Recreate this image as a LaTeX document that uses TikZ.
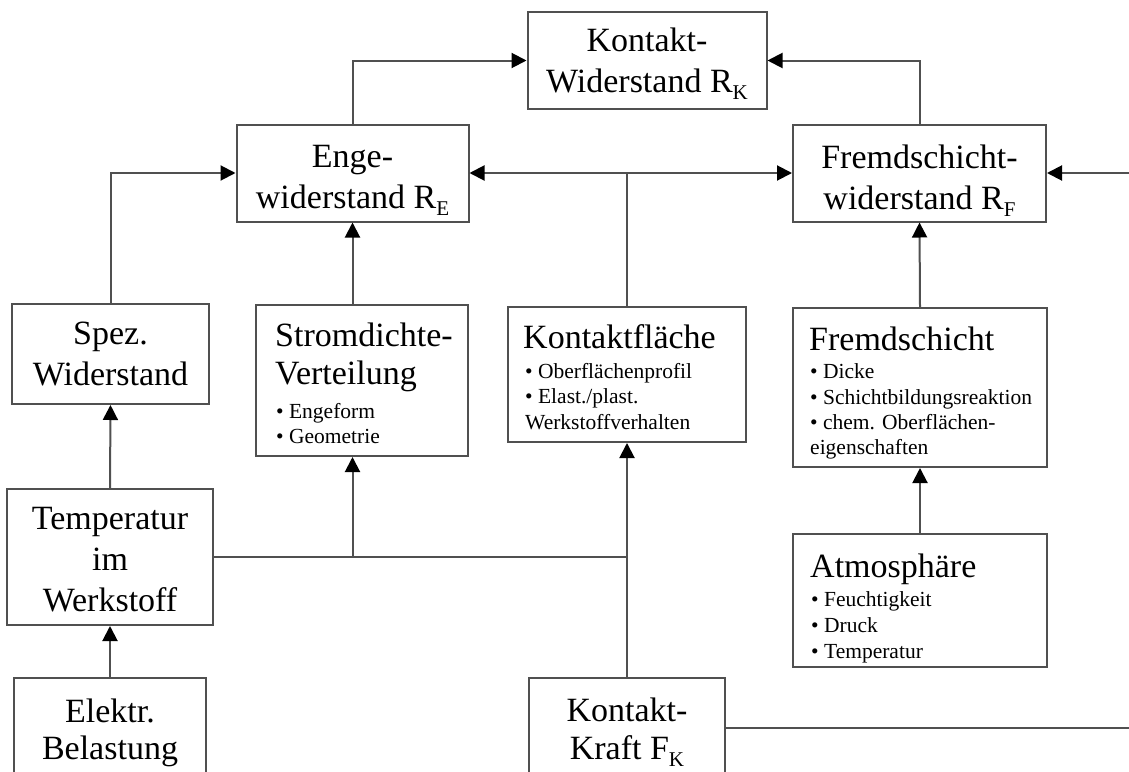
\documentclass[tikz,border=0pt]{standalone}
\usepackage{fontspec}
\setmainfont{Liberation Serif}
\usetikzlibrary{arrows.meta}
\definecolor{lc}{RGB}{80,80,80}
\newcommand{\lowidx}[1]{\raisebox{-7pt}[0pt][0pt]{\fontsize{21}{21}\selectfont #1}}
\tikzset{
  box/.style={draw=lc, line width=2pt, rectangle, inner sep=0pt, align=center,
    font=\fontsize{34}{41}\selectfont},
  lbl/.style={inner sep=0pt, align=center, font=\fontsize{34}{41}\selectfont},
  big/.style={inner sep=0pt, anchor=base west, font=\fontsize{34}{41}\selectfont},
  bigc/.style={inner sep=0pt, anchor=base, font=\fontsize{34}{41}\selectfont},
  small/.style={inner sep=0pt, anchor=base west, font=\fontsize{21.5}{25}\selectfont},
  conn/.style={draw=lc, line width=2pt},
  arr/.style={conn, -{Triangle[length=15pt,width=15pt,color=black]}}
}
\begin{document}
\begin{tikzpicture}[x=1pt,y=-1pt]
\useasboundingbox (0,0) rectangle (1129,771);
\clip (0,0) rectangle (1129,771);
% boxes
\node[box, minimum width=239pt, minimum height=97pt] (rk) at (647,60.5) {Kontakt-\\Widerstand R\lowidx{K}};
\node[box, minimum width=232pt, minimum height=97pt] (re) at (352.5,173) {};
\node[box, minimum width=253pt, minimum height=97pt] (rf) at (919.5,173) {};
\node[box, minimum width=197pt, minimum height=100pt] (spez) at (110.5,354) {Spez.\\Widerstand};
\node[box, minimum width=212pt, minimum height=151pt] (strom) at (362,380.5) {};
\node[box, minimum width=238pt, minimum height=135pt] (kfl) at (627,374.5) {};
\node[box, minimum width=254pt, minimum height=159pt] (fremd) at (920,387.5) {};
\node[box, minimum width=206pt, minimum height=136pt] (temp) at (110,557) {};
\node[box, minimum width=254pt, minimum height=133pt] (atmo) at (920,600.5) {};
\node[box, minimum width=192pt, minimum height=100pt] (el) at (110,728) {};
\node[box, minimum width=196pt, minimum height=100pt] (kk) at (627,728) {};
% centred texts
\node[lbl, yshift=-4pt] (ret) at (re) {Enge-\\widerstand R\lowidx{E}};
\node[lbl, yshift=-4pt] (rft) at (rf) {Fremdschicht-\\widerstand R\lowidx{F}};
\node[lbl, yshift=-3pt] (tempt) at (temp) {Temperatur\\im\\Werkstoff};
% left-aligned texts
\node[big] (st1) at (275,346) {Stromdichte-};
\node[big] (st2) at (275,384) {Verteilung};
\node[small] (st3) at (276,418) {• Engeform};
\node[small] (st4) at (276,443) {• Geometrie};
\node[big] (kf1) at (523,348) {Kontaktfläche};
\node[small] (kf2) at (525,378) {• Oberflächenprofil};
\node[small] (kf3) at (525,403) {• Elast./plast.};
\node[small] (kf4) at (525,429) {Werkstoffverhalten};
\node[big] (fr1) at (809,350) {Fremdschicht};
\node[small] (fr2) at (810,378) {• Dicke};
\node[small] (fr3) at (810,404) {• Schichtbildungsreaktion};
\node[small] (fr4) at (810,429) {• chem. Oberflächen-};
\node[small] (fr5) at (810,454) {eigenschaften};
\node[big] (at1) at (810,577) {Atmosphäre};
\node[small] (at2) at (811,606) {• Feuchtigkeit};
\node[small] (at3) at (811,632) {• Druck};
\node[small] (at4) at (811,658) {• Temperatur};
\node[bigc] (el1) at (110,722) {Elektr.};
\node[bigc] (el2) at (110,759) {Belastung};
\node[bigc] (kk1) at (627,721) {Kontakt-};
\node[bigc] (kk2) at (627,759) {Kraft F\lowidx{K}};
% coordinates
\coordinate (jk) at (627,173);
\coordinate (j1) at (352.5,557);
\coordinate (j2) at (627,557);
\coordinate (redgeA) at (1129,173);
\coordinate (redgeB) at (1129,728);
% connectors
\draw[arr] (re.north) |- (rk.west);
\draw[arr] (rf.north) |- (rk.east);
\draw[arr] (spez.north) |- (re.west);
\draw[arr] (strom.north -| re.south) -- (re.south);
\draw[conn] (kfl.north) -- (jk);
\draw[arr] (jk) -- (re.east);
\draw[arr] (jk) -- (rf.west);
\draw[arr] (redgeA) -- (rf.east);
\draw[arr] (fremd.north) -- (rf.south);
\draw[arr] (temp.north) -- (spez.south);
\draw[conn] (temp.east) -- (j2);
\draw[arr] (j1) -- (strom.south -| j1);
\draw[arr] (kk.north) -- (kfl.south);
\draw[arr] (atmo.north) -- (fremd.south);
\draw[arr] (el.north) -- (temp.south);
\draw[conn] (kk.east) -- (redgeB);
\end{tikzpicture}
\end{document}
